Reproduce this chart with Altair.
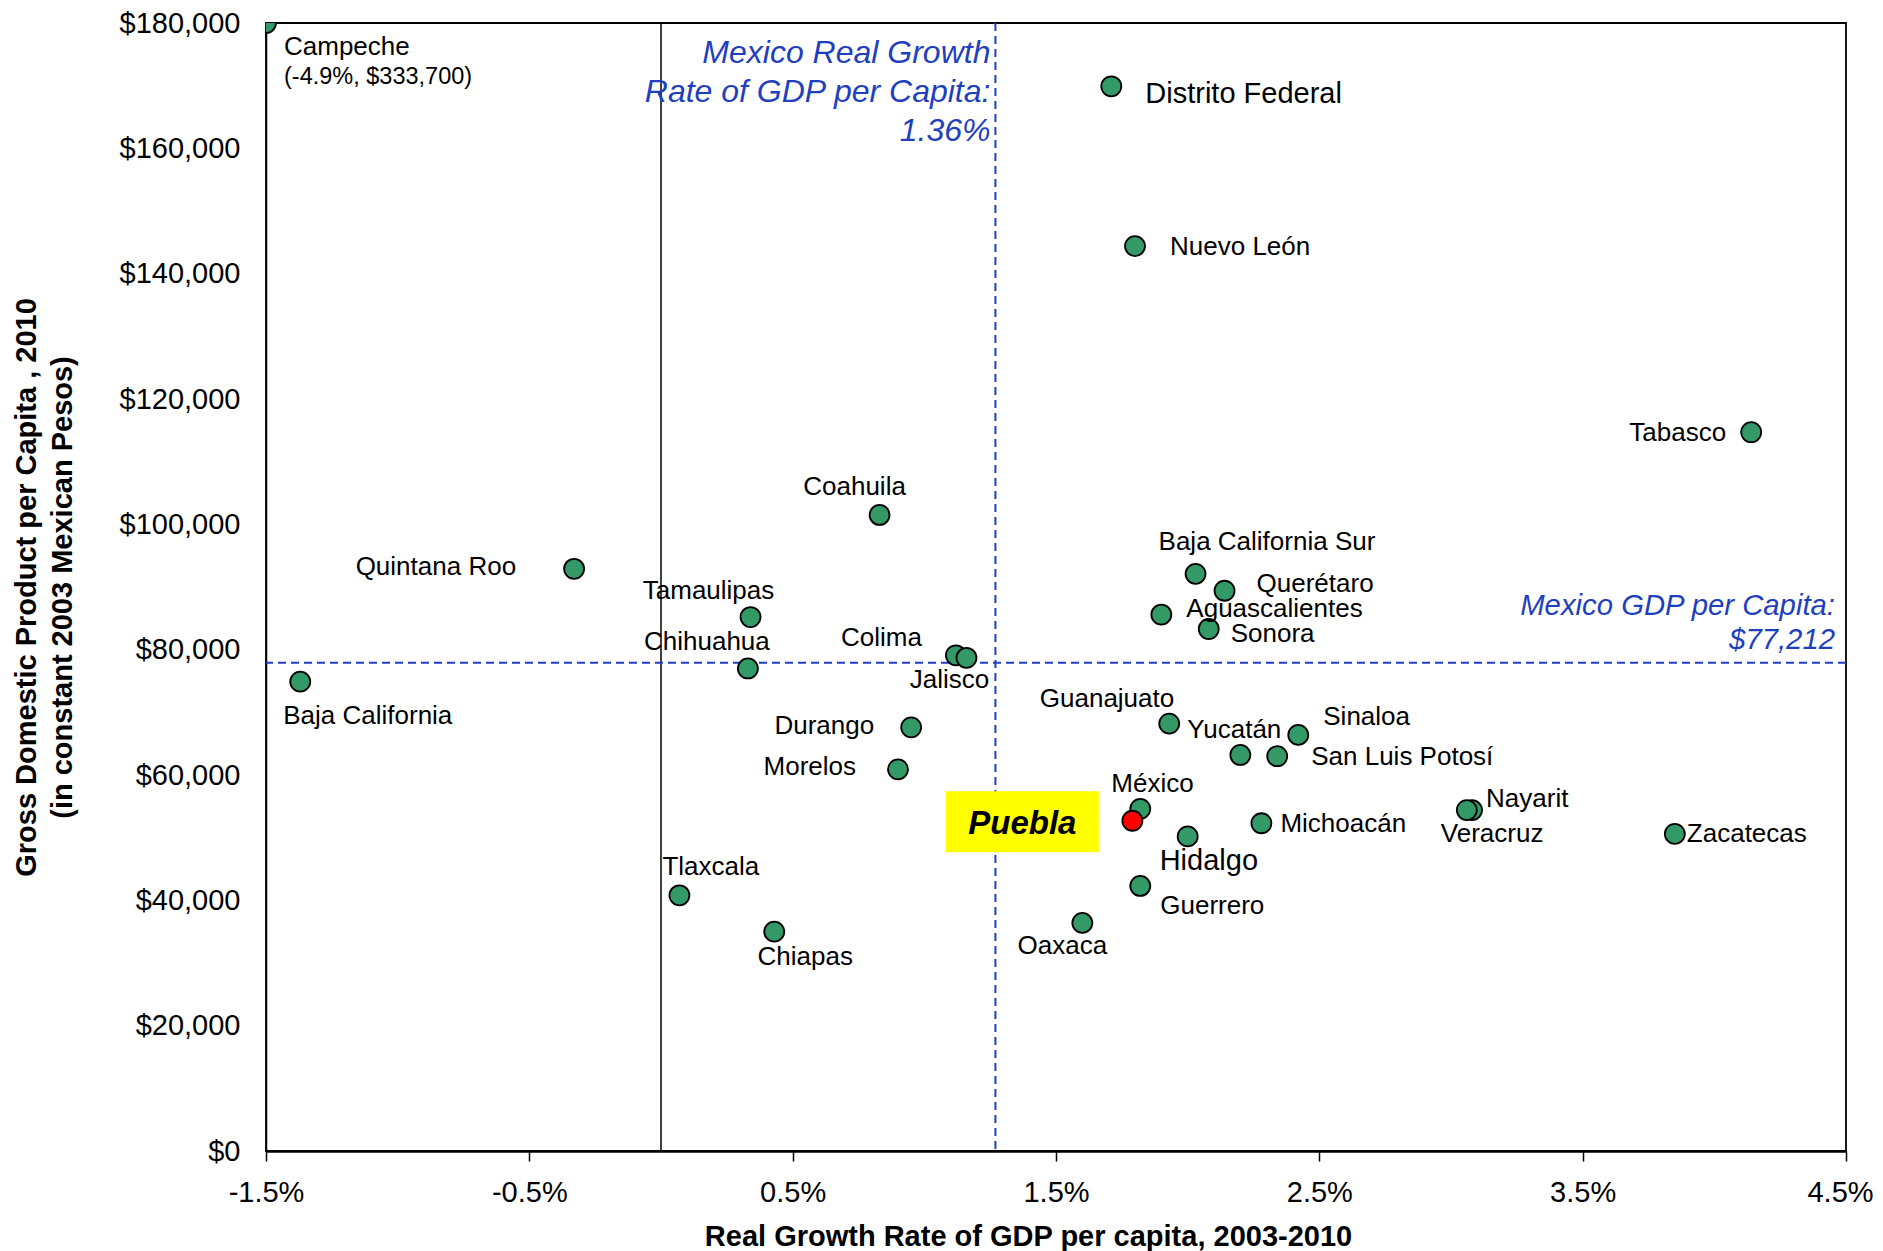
import altair as alt
import pandas as pd

# ---- data ----
states = ["Campeche", "Distrito Federal", "Nuevo León", "Tabasco", "Coahuila",
          "Quintana Roo", "Tamaulipas", "Chihuahua", "Baja California", "Colima",
          "Jalisco", "Durango", "Morelos", "Tlaxcala", "Chiapas", "Oaxaca",
          "Guerrero", "Hidalgo", "México", "Michoacán", "Guanajuato", "Yucatán",
          "San Luis Potosí", "Sinaloa", "Nayarit", "Veracruz", "Zacatecas",
          "Baja California Sur", "Querétaro", "Aguascalientes", "Sonora", "Puebla"]
growth = [-4.9, 1.71, 1.80, 4.14, 0.83,
          -0.33, 0.34, 0.33, -1.37, 1.12,
          1.16, 0.95, 0.90, 0.07, 0.43, 1.60,
          1.82, 2.00, 1.82, 2.28, 1.93, 2.20,
          2.34, 2.42, 3.08, 3.06, 3.85,
          2.03, 2.14, 1.90, 2.08, 1.79]
gdp = [333700, 169900, 144400, 114700, 101500,
       92900, 85200, 77000, 74900, 79100,
       78700, 67600, 60900, 40800, 35000, 36400,
       42300, 50200, 54600, 52300, 68200, 63200,
       63000, 66400, 54400, 54400, 50600,
       92100, 89400, 85600, 83300, 52700]
highlight = "Puebla"

mean_growth = 1.27      # position of the dashed vertical line
mean_gdp = 77900        # position of the dashed horizontal line
growth_label = ["Mexico Real Growth", "Rate of GDP per Capita:", "1.36%"]
gdp_label = ["Mexico GDP per Capita:", "$77,212"]
campeche_note = "(-4.9%, $333,700)"

x_ticks = [-1.5, -0.5, 0.5, 1.5, 2.5, 3.5, 4.5]
y_ticks = [0, 20000, 40000, 60000, 80000, 100000, 120000, 140000, 160000, 180000]

# ---- label placement (pixel offsets from each point) ----
label_style = {
    "Campeche": (18, 24, "left", 26),
    "Distrito Federal": (34, 8, "left", 29),
    "Nuevo León": (35, 1, "left", 26),
    "Tabasco": (-25, 1, "right", 26),
    "Coahuila": (-25, -28, "center", 26),
    "Quintana Roo": (-58, -2, "right", 26),
    "Tamaulipas": (-42, -26, "center", 26),
    "Chihuahua": (-41, -26, "center", 26),
    "Baja California": (-17, 34, "left", 26),
    "Colima": (-34, -17, "right", 26),
    "Jalisco": (-17, 22, "center", 26),
    "Durango": (-37, -1, "right", 26),
    "Morelos": (-42, -2, "right", 26),
    "Tlaxcala": (-17, -28, "left", 26),
    "Chiapas": (31, 25, "center", 26),
    "Oaxaca": (-20, 23, "center", 26),
    "Guerrero": (20, 20, "left", 26),
    "Hidalgo": (-28, 25, "left", 29),
    "México": (-29, -25, "left", 26),
    "Michoacán": (19, 1, "left", 26),
    "Guanajuato": (5, -25, "right", 26),
    "Yucatán": (-53, -25, "left", 26),
    "San Luis Potosí": (34, 1, "left", 26),
    "Sinaloa": (25, -18, "left", 26),
    "Nayarit": (14, -11, "left", 26),
    "Veracruz": (-26, 24, "left", 26),
    "Zacatecas": (12, 0, "left", 26),
    "Baja California Sur": (-37, -32, "left", 26),
    "Querétaro": (32, -7, "left", 26),
    "Aguascalientes": (25, -6, "left", 26),
    "Sonora": (22, 5, "left", 26),
}

FONT = "Liberation Sans"
GREEN = "#339966"
BLUE = "#1f3fc0"

df = pd.DataFrame({"state": states, "growth": growth, "gdp": gdp})

xs = alt.Scale(domain=[-1.5, 4.5], nice=False, clamp=True)
ys = alt.Scale(domain=[0, 180000], nice=False, clamp=True)

X = alt.X("growth:Q", scale=xs, axis=alt.Axis(
    values=x_ticks,
    labelExpr="(datum.value < 0 ? '-' : '') + format(abs(datum.value), '.1f') + '%'",
    labelFlush=False,
    labelOffset={"condition": {"test": "datum.value >= 4.5", "value": -6}, "value": 0},
    title="Real Growth Rate of GDP per capita, 2003-2010",
    titleX=762, titleY=85, titleBaseline="middle", titleAlign="center",
    tickSize=10, tickWidth=1.5, tickColor="black", domainWidth=2.5,
    labelPadding=17))
Y = alt.Y("gdp:Q", scale=ys, axis=alt.Axis(
    values=y_ticks, format="$,.0f", labelFlush=False,
    title=["Gross Domestic Product per Capita , 2010", "(in constant 2003 Mexican Pesos)"],
    titleX=-240, titleY=564, titleBaseline="middle", titleAlign="center",
    titleLineHeight=36, ticks=False, labelPadding=26, domainWidth=1.5))

base = alt.Chart(df)

zero_line = alt.Chart(pd.DataFrame({"growth": [0]})).mark_rule(
    color="black", strokeWidth=1.5).encode(x=alt.X("growth:Q", scale=xs))

vline = alt.Chart(pd.DataFrame({"growth": [mean_growth]})).mark_rule(
    color=BLUE, strokeWidth=2, strokeDash=[8, 5]).encode(x=alt.X("growth:Q", scale=xs))
hline = alt.Chart(pd.DataFrame({"gdp": [mean_gdp]})).mark_rule(
    color=BLUE, strokeWidth=2, strokeDash=[8, 5]).encode(y=alt.Y("gdp:Q", scale=ys))

points = base.transform_filter(alt.datum.state != highlight).mark_point(
    filled=True, fill=GREEN, stroke="black", strokeWidth=1.8, size=400,
    opacity=1, shape="circle", clip=True).encode(x=X, y=Y)

hl = base.transform_filter(alt.datum.state == highlight)
hl_point = hl.mark_point(filled=True, fill="#ff0000", stroke="black",
                         strokeWidth=1.8, size=400, opacity=1, clip=True).encode(x=X, y=Y)
hl_box = hl.mark_point(shape="M-1,-0.399L1,-0.399L1,0.399L-1,0.399Z", size=23409,
                       filled=True, fill="#ffff00", opacity=1, strokeWidth=0,
                       xOffset=-110, yOffset=1).encode(x=X, y=Y)
hl_text = hl.mark_text(font=FONT, fontSize=33, fontWeight="bold", fontStyle="italic",
                       color="black", align="center", baseline="middle",
                       dx=-110, dy=3).encode(x=X, y=Y, text="state:N")

label_layers = []
for name, (dx, dy, align, fs) in label_style.items():
    label_layers.append(
        base.transform_filter(alt.datum.state == name).mark_text(
            font=FONT, fontSize=fs, color="black", align=align, baseline="middle",
            dx=dx, dy=dy).encode(x=X, y=Y, text="state:N"))

camp_note = base.transform_filter(alt.datum.state == "Campeche").mark_text(
    font=FONT, fontSize=23.5, color="black", align="left", baseline="middle",
    dx=18, dy=54, text=campeche_note).encode(x=X, y=Y)

ann_df_g = pd.DataFrame({"growth": [mean_growth], "gdp": [180000]})
ann_layers = []
for i, line in enumerate(growth_label):
    ann_layers.append(alt.Chart(ann_df_g).mark_text(
        font=FONT, fontSize=32, fontStyle="italic", color=BLUE, align="right",
        baseline="middle", dx=-5, dy=30 + 39 * i, text=line).encode(
        x=alt.X("growth:Q", scale=xs), y=alt.Y("gdp:Q", scale=ys)))
ann_df_y = pd.DataFrame({"growth": [4.5], "gdp": [mean_gdp]})
for i, line in enumerate(gdp_label):
    ann_layers.append(alt.Chart(ann_df_y).mark_text(
        font=FONT, fontSize=29.3, fontStyle="italic", color=BLUE, align="right",
        baseline="middle", dx=-11, dy=-57 + 34 * i, text=line).encode(
        x=alt.X("growth:Q", scale=xs), y=alt.Y("gdp:Q", scale=ys)))

chart = alt.layer(
    zero_line, vline, hline, points, hl_box, hl_text, hl_point,
    *label_layers, camp_note, *ann_layers
).properties(
    width=1580, height=1128,
    padding={"left": 258, "top": 15, "right": 29, "bottom": 100},
    autosize=alt.AutoSizeParams(type="none"),
).configure_view(
    stroke="black", strokeWidth=1.8
).configure_axis(
    labelFont=FONT, labelFontSize=29, labelColor="black",
    titleFont=FONT, titleFontSize=29, titleFontWeight="bold", titleColor="black",
    domainColor="black", grid=False
)

chart.save("out.html", embed_options={"renderer": "svg", "actions": False})
